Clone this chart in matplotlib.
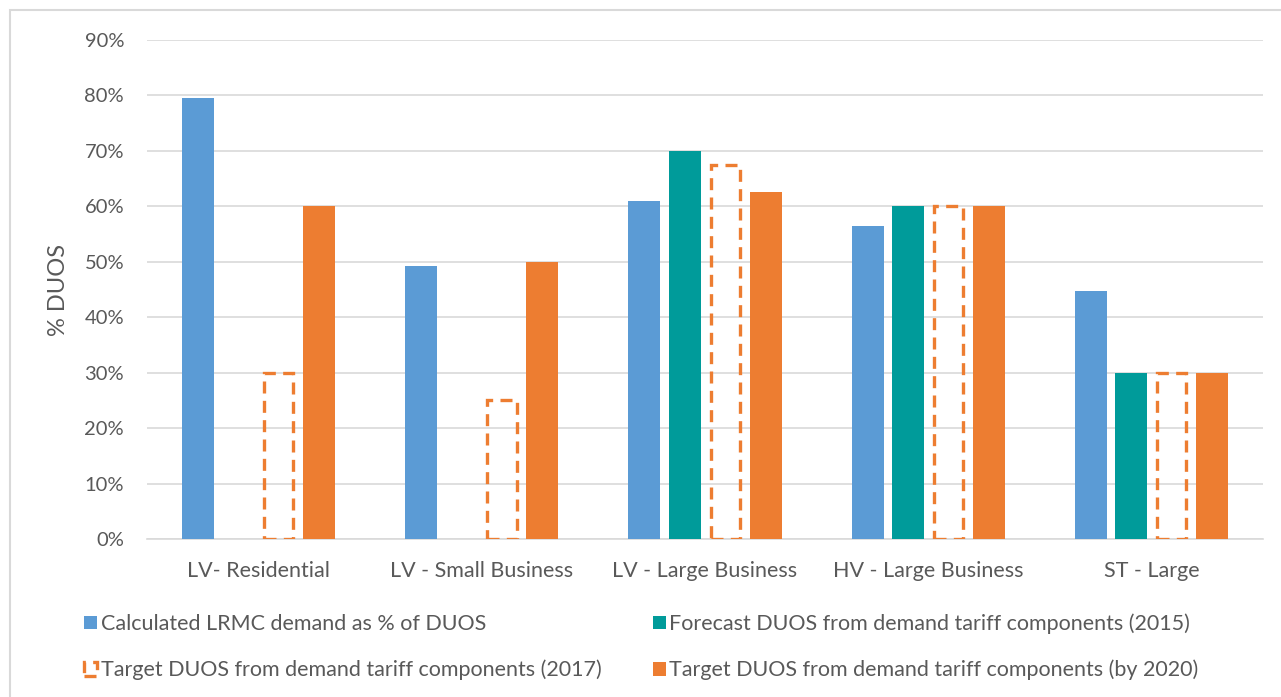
import matplotlib
matplotlib.use("Agg")
import matplotlib.pyplot as plt
from matplotlib.patches import Rectangle
import numpy as np

plt.rcParams['font.family'] = ['Lato', 'DejaVu Sans']

categories = ["LV- Residential", "LV - Small Business", "LV - Large Business",
              "HV - Large Business", "ST - Large"]
lrmc = [79.5, 49.3, 61.0, 56.5, 44.7]
forecast_2015 = [0, 0, 70.0, 60.0, 30.0]
target_2017 = [30.0, 25.0, 67.5, 60.0, 30.0]
target_2020 = [60.0, 50.0, 62.5, 60.0, 30.0]

series_labels = [
    "Calculated LRMC demand as % of DUOS",
    "Forecast DUOS from demand tariff components (2015)",
    "Target DUOS from demand tariff components (2017)",
    "Target DUOS from demand tariff components (by 2020)",
]
y_ticks = [0, 10, 20, 30, 40, 50, 60, 70, 80, 90]

BLUE = "#5B9BD5"
TEAL = "#009B9A"
ORANGE = "#ED7D31"
TEXT = "#595959"
GRID = "#D9D9D9"

W, H = 1281, 697
fig = plt.figure(figsize=(W / 100, H / 100), dpi=100)
ax = fig.add_axes([147 / W, 1 - 539 / H, (1263 - 147) / W, (539 - 40) / H])

x = np.arange(len(categories))
step = 0.181
width = 0.143

b1 = ax.bar(x - 1.5 * step, lrmc, width, color=BLUE, label=series_labels[0], zorder=3)
b2 = ax.bar(x - 0.5 * step, forecast_2015, width, color=TEAL, label=series_labels[1], zorder=3)
b3 = ax.bar(x + 0.5 * step, target_2017, width - 0.012, facecolor="none", edgecolor=ORANGE,
            linewidth=2.4, linestyle=(0, (3.6, 2.2)), label=series_labels[2], zorder=3)
b4 = ax.bar(x + 1.5 * step, target_2020, width, color=ORANGE, label=series_labels[3], zorder=3)

ax.set_xlim(-0.5, len(categories) - 0.5)
ax.set_ylim(0, 90)
ax.set_yticks(y_ticks)
ax.set_yticklabels([f"{t}%" for t in y_ticks])
ax.set_xticks(x)
ax.set_xticklabels(categories, fontsize=15.5)
ax.yaxis.grid(True, color=GRID, linewidth=1.2, zorder=0)
for s in ["top", "right", "left"]:
    ax.spines[s].set_visible(False)
ax.spines["bottom"].set_color(GRID)
ax.spines["bottom"].set_linewidth(1.2)
ax.tick_params(axis="both", length=0, colors=TEXT)
ax.tick_params(axis="y", labelsize=14.5, pad=16.5)
ax.tick_params(axis="x", pad=16)
ax.set_ylabel("% DUOS", color=TEXT, fontsize=17, labelpad=11)

# legend filled row by row: first row LRMC / 2015, second row 2017 / 2020
leg = fig.legend(handles=[b1, b3, b2, b4],
                 labels=[series_labels[0], series_labels[2], series_labels[1], series_labels[3]],
                 loc="upper left", bbox_to_anchor=(65 / W, 1 - 594 / H),
                 ncol=2, frameon=False, fontsize=15.5, labelcolor=TEXT,
                 handlelength=0.6, handleheight=0.6, handletextpad=0.15,
                 columnspacing=2.4, labelspacing=1.2)

# light frame around the whole chart area
fig.patches.append(Rectangle((10 / W, -0.1), 1.2, 1 - 10 / H + 0.1, transform=fig.transFigure,
                             fill=False, edgecolor=GRID, linewidth=1.5))

fig.savefig("out.png", dpi=100, facecolor="white")
